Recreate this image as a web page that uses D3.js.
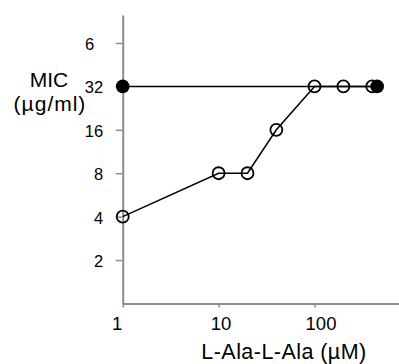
<!DOCTYPE html>
<html>
<head>
<meta charset="utf-8">
<script src="https://cdn.jsdelivr.net/npm/d3@7"></script>
<style>
  body { margin: 0; background: #fff; }
  svg { display: block; font-family: Arial, "Liberation Sans", sans-serif; }
</style>
</head>
<body>
<div id="chart"></div>
<script>
// concentration (uM) vs MIC (ug/ml)
const openX = [1, 10, 20, 40, 100, 200, 400];
const openY = [4, 8, 8, 16, 32, 32, 32];
const filledX = [1, 450];
const filledY = [32, 32];

const xTicks = [1, 10, 100];
const yTicks = [2, 4, 8, 16, 32, 64];
const yTickLabels = ['2', '4', '8', '16', '32', '6'];

const width = 399;
const height = 364;

const svg = d3.select('#chart').append('svg')
  .attr('width', width)
  .attr('height', height);

const x = d3.scaleLog().domain([1, 760]).range([122.7, 399]);
const y = d3.scaleLog().base(2).domain([1, 100]).range([303.5, 15]);

const axisColour = '#8c8c8c';
// labels in the original sit a little off their ticks
const xLabelShift = [-6, 2, 6];

// x axis
const gx = svg.append('g')
  .attr('transform', `translate(0,${y(1)})`)
  .call(d3.axisBottom(x).tickValues(xTicks).tickFormat(d3.format('d'))
    .tickSizeInner(4).tickSizeOuter(0).tickPadding(9));
gx.select('.domain').attr('stroke', axisColour).attr('stroke-width', 2);
gx.selectAll('.tick line').attr('stroke', axisColour).attr('stroke-width', 1.5);
gx.selectAll('.tick text')
  .attr('font-size', 18.5)
  .attr('font-family', 'Arial, "Liberation Sans", sans-serif')
  .attr('fill', '#000')
  .attr('dx', (d, i) => xLabelShift[i]);

// y axis
const gy = svg.append('g')
  .attr('transform', `translate(${x(1)},0)`)
  .call(d3.axisLeft(y).tickValues(yTicks)
    .tickFormat((d, i) => yTickLabels[i])
    .tickSizeInner(7).tickSizeOuter(0).tickPadding(12.5));
gy.select('.domain').attr('stroke', axisColour).attr('stroke-width', 2);
gy.selectAll('.tick line').attr('stroke', axisColour).attr('stroke-width', 1.5);
gy.selectAll('.tick text')
  .attr('font-size', 16.5)
  .attr('font-family', 'Arial, "Liberation Sans", sans-serif')
  .attr('fill', '#000')
  .attr('dy', '0.4em')
  .attr('dx', (d, i) => yTickLabels[i].length < String(d).length ? -9 : 0);

// axis titles
svg.append('text')
  .attr('x', 284)
  .attr('y', 359.3)
  .attr('text-anchor', 'middle')
  .attr('font-size', 21.5)
  .attr('letter-spacing', 0.45)
  .text('L-Ala-L-Ala (µM)');

const yTitle = svg.append('text')
  .attr('text-anchor', 'middle')
  .attr('font-size', 21);
yTitle.append('tspan').attr('x', 49).attr('y', 86.5).text('MIC');
yTitle.append('tspan').attr('x', 50).attr('y', 110.5)
  .attr('letter-spacing', 1).text('(µg/ml)');

const line = d3.line()
  .x(d => x(d[0]))
  .y(d => y(d[1]));

const openData = openX.map((v, i) => [v, openY[i]]);
const filledData = filledX.map((v, i) => [v, filledY[i]]);

svg.append('path')
  .datum(openData)
  .attr('fill', 'none')
  .attr('stroke', '#000')
  .attr('stroke-width', 1.5)
  .attr('d', line);

svg.append('path')
  .datum(filledData)
  .attr('fill', 'none')
  .attr('stroke', '#000')
  .attr('stroke-width', 1.5)
  .attr('d', line);

svg.append('g').selectAll('circle')
  .data(openData)
  .join('circle')
  .attr('cx', d => x(d[0]))
  .attr('cy', d => y(d[1]))
  .attr('r', 6)
  .attr('fill', 'none')
  .attr('stroke', '#000')
  .attr('stroke-width', 1.8);

svg.append('g').selectAll('circle')
  .data(filledData)
  .join('circle')
  .attr('cx', d => x(d[0]))
  .attr('cy', d => y(d[1]))
  .attr('r', 6.8)
  .attr('fill', '#000');
</script>
</body>
</html>
